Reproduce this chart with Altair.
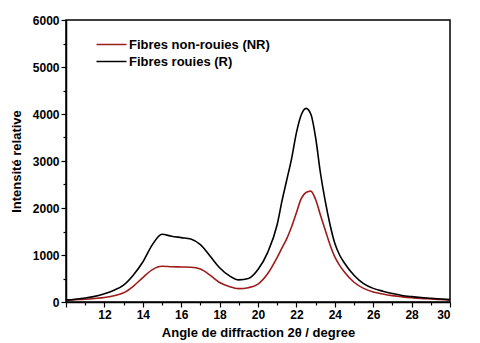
import altair as alt
import pandas as pd

angle = [10, 10.5, 11, 11.5, 12, 12.5, 13, 13.5, 14, 14.5, 15, 15.5, 16, 16.5, 17, 17.5,
         18, 18.5, 19, 19.5, 20, 20.5, 21, 21.25, 21.5, 21.75, 22, 22.25, 22.5, 22.75,
         23, 23.25, 23.5, 23.75, 24, 24.25, 24.5, 25, 25.5, 26, 26.5, 27, 27.5, 28, 28.5, 29, 29.5, 30]

rouies = [40, 60, 85, 120, 175, 250, 360, 570, 850, 1220, 1440, 1400, 1370, 1340, 1220, 980,
          730, 560, 470, 500, 690, 1050, 1650, 2150, 2600, 3050, 3600, 3980, 4120, 4000,
          3500, 2750, 2150, 1650, 1250, 1000, 830, 570, 390, 290, 230, 180, 140, 115, 95, 80, 65, 50]

non_rouies = [40, 50, 60, 75, 95, 135, 195, 335, 520, 690, 760, 750, 745, 740, 700, 570,
              415, 330, 285, 305, 380, 600, 950, 1150, 1350, 1600, 1900, 2200, 2330, 2360,
              2180, 1850, 1530, 1220, 960, 780, 640, 420, 290, 215, 170, 135, 110, 90, 75, 65, 55, 40]

series_names = ["Fibres non-rouies (NR)", "Fibres rouies (R)"]
series_colors = ["#9e1b1b", "#000000"]

rows = []
for a, v in zip(angle, non_rouies):
    rows.append({"angle": a, "val": v, "serie": series_names[0], "ord": 0})
for a, v in zip(angle, rouies):
    rows.append({"angle": a, "val": v, "serie": series_names[1], "ord": 1})
df = pd.DataFrame(rows)

FONT = "Liberation Sans"

chart = alt.Chart(df).mark_line(strokeWidth=1.6, interpolate="monotone").encode(
    x=alt.X("angle:Q",
            scale=alt.Scale(domain=[10, 30], nice=False, zero=False),
            axis=alt.Axis(values=list(range(10, 31)),
                          labelExpr="(datum.value % 2 == 0 && datum.value > 10) ? datum.label : ''",
                          tickSize={"condition": {"test": "datum.value % 2 == 0", "value": 5}, "value": 3},
                          title="Angle de diffraction 2θ / degree",
                          grid=False)),
    y=alt.Y("val:Q",
            scale=alt.Scale(domain=[0, 6000], nice=False),
            axis=alt.Axis(values=list(range(0, 6001, 500)),
                          labelExpr="datum.value % 1000 == 0 ? datum.value : ''",
                          tickSize={"condition": {"test": "datum.value % 1000 == 0", "value": 5}, "value": 3},
                          title="Intensité relative",
                          grid=False)),
    color=alt.Color("serie:N",
                    scale=alt.Scale(domain=series_names, range=series_colors),
                    legend=alt.Legend(title=None, orient="none", legendX=39, legendY=18,
                                      symbolType="M-3,0L3,0", symbolSize=100, symbolStrokeWidth=1.5,
                                      labelFont=FONT, labelFontSize=13, labelFontWeight="bold",
                                      labelColor="black", rowPadding=3, labelOffset=11)),
    order=alt.Order("ord:Q"),
    detail="serie:N",
).properties(
    width=384,
    height=282,
    autosize=alt.AutoSizeParams(type="none"),
    padding={"left": 58, "top": 12, "right": 22, "bottom": 41},
).configure_view(
    stroke="black", strokeWidth=1.5
).configure_axis(
    domainColor="black", domainWidth=1.5, tickColor="black", tickWidth=1.2,
    labelFont=FONT, labelFontSize=12, labelFontWeight="bold", labelColor="black",
    titleFont=FONT, titleFontSize=13, titleFontWeight="bold", titleColor="black",
    labelPadding=2
).configure_axisX(titlePadding=6).configure_axisY(titlePadding=9)

chart.save("out.html", embed_options={"renderer": "svg", "actions": False})
